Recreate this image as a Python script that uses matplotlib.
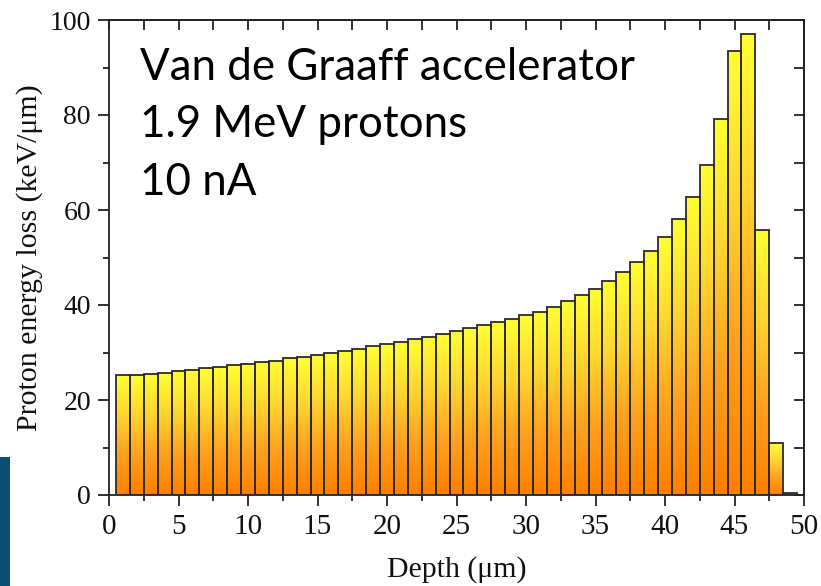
import numpy as np
import matplotlib
matplotlib.use("Agg")
import matplotlib.pyplot as plt
from matplotlib.patches import Rectangle
from matplotlib.colors import LinearSegmentedColormap
from matplotlib.ticker import MultipleLocator

depth = list(range(1, 50))
energy_loss = [25.3, 25.3, 25.5, 25.7, 26.1, 26.4, 26.7, 26.9, 27.3, 27.6,
               28.0, 28.3, 28.8, 29.05, 29.5, 29.9, 30.3, 30.8, 31.3, 31.7,
               32.2, 32.8, 33.3, 33.9, 34.6, 35.2, 35.7, 36.5, 37.1, 37.8,
               38.6, 39.6, 40.8, 42.2, 43.4, 45.0, 46.9, 49.0, 51.4, 54.3,
               58.1, 62.8, 69.5, 79.1, 93.5, 97.1, 55.8, 10.9, 0.4]
annotation = ["Van de Graaff accelerator", "1.9 MeV protons", "10 nA"]
xlabel = "Depth (\u03bcm)"
ylabel = "Proton energy loss (keV/\u03bcm)"

W, H = 821, 586
fig = plt.figure(figsize=(W / 100, H / 100), dpi=100)
ax = fig.add_axes([109 / W, 1 - 495 / H, (804 - 109) / W, (495 - 20) / H])

cmap = LinearSegmentedColormap.from_list("yo", ["#ff7f00", "#ffa020", "#ffd530", "#ffff33"])
grad = np.linspace(0, 1, 256).reshape(-1, 1)
bw = 1.0
for x, h in zip(depth, energy_loss):
    x0 = x - bw / 2
    im = ax.imshow(grad, extent=[x0, x0 + bw, 0, h], origin="lower", cmap=cmap,
                   aspect="auto", zorder=2, interpolation="bilinear")
    rect = Rectangle((x0, 0), bw, h, facecolor="none", edgecolor="#2b2b2b",
                     linewidth=1.3, zorder=3)
    ax.add_patch(rect)
    im.set_clip_path(rect)

ax.set_xlim(0, 50)
ax.set_ylim(0, 100)

serif = "Liberation Serif"
ax.xaxis.set_major_locator(MultipleLocator(5))
ax.xaxis.set_minor_locator(MultipleLocator(2.5))
ax.yaxis.set_major_locator(MultipleLocator(20))
ax.yaxis.set_minor_locator(MultipleLocator(10))
ax.tick_params(axis="both", which="major", length=8, width=1.3, color="#222222",
               labelcolor="#111111")
ax.tick_params(axis="x", which="major", labelsize=21, pad=6)
ax.tick_params(axis="y", which="major", labelsize=20, pad=5)
ax.tick_params(axis="both", which="minor", length=4.5, width=1.3, color="#222222")
ax.tick_params(axis="x", which="both", direction="out", top=False)
ax.tick_params(axis="y", which="both", direction="out", right=False)
for lab in ax.get_xticklabels() + ax.get_yticklabels():
    lab.set_fontfamily(serif)

# inward ticks on top / right
axt = ax.secondary_xaxis("top")
axt.xaxis.set_major_locator(MultipleLocator(5))
axt.xaxis.set_minor_locator(MultipleLocator(2.5))
axt.tick_params(which="both", direction="in", length=7, width=1.3, color="#222222", labeltop=False)
axr = ax.secondary_yaxis("right")
axr.yaxis.set_major_locator(MultipleLocator(20))
axr.yaxis.set_minor_locator(MultipleLocator(10))
axr.tick_params(which="both", direction="in", length=7, width=1.3, color="#222222", labelright=False)
for a in (axt, axr):
    for s in a.spines.values():
        s.set_linewidth(1.3)
        s.set_color("#222222")

for s in ax.spines.values():
    s.set_linewidth(1.3)
    s.set_color("#222222")

ax.set_xlabel(xlabel, fontfamily=serif, fontsize=21.5, color="#111111", labelpad=11)
ax.set_ylabel(ylabel, fontfamily=serif, fontsize=21.5, color="#111111", labelpad=5)

ys = [80, 137, 195]
for txt, yb in zip(annotation, ys):
    fig.text(140 / W, 1 - yb / H, txt, fontfamily="Lato", fontsize=31.6,
             ha="left", va="baseline", color="black")

fig.patches.append(Rectangle((0, 0), 10 / W, (586 - 457) / H, transform=fig.transFigure,
                             facecolor="#0b4f75", edgecolor="none", zorder=0))

fig.savefig("out.png", dpi=100)
